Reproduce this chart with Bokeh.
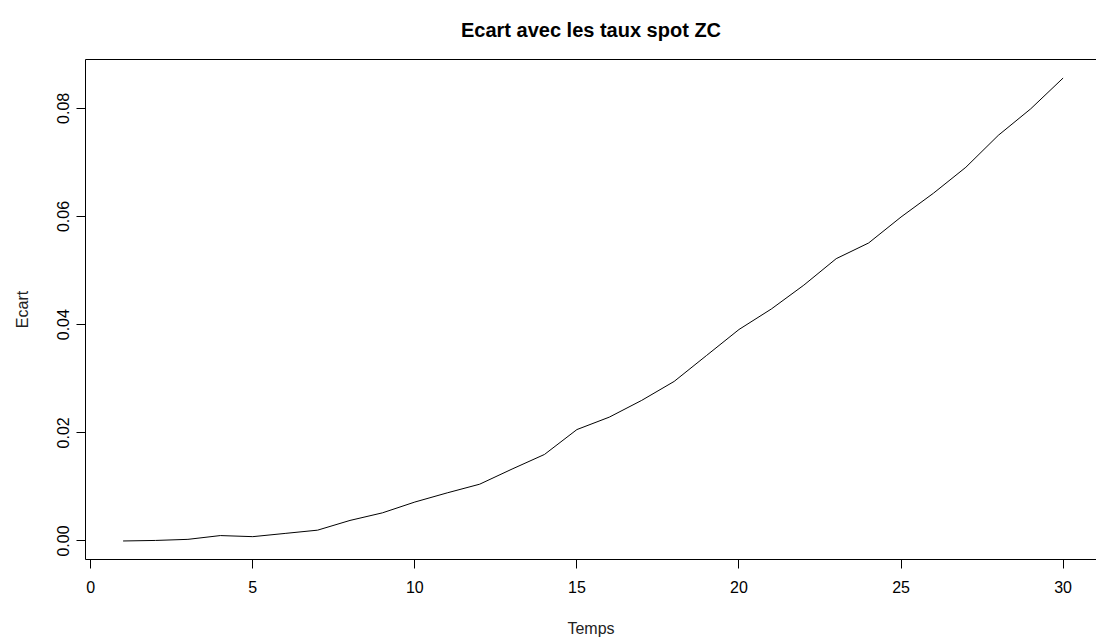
from bokeh.plotting import figure
from bokeh.models import (Range1d, FixedTicker, PrintfTickFormatter, LinearAxis, Title)
from bokeh.embed import file_html
from bokeh.resources import INLINE

# Data
temps = [1, 2, 3, 4, 5, 6, 7, 8, 9, 10, 11, 12, 13, 14, 15,
         16, 17, 18, 19, 20, 21, 22, 23, 24, 25, 26, 27, 28, 29, 30]
ecart = [0.0000, 0.0001, 0.0003, 0.0010, 0.0008, 0.0014, 0.0020, 0.0038, 0.0052, 0.0072,
         0.0089, 0.0105, 0.0133, 0.0160, 0.0206, 0.0229, 0.0260, 0.0295, 0.0343, 0.0391,
         0.0429, 0.0473, 0.0522, 0.0551, 0.0599, 0.0643, 0.0691, 0.0750, 0.0799, 0.0856]
x_ticks = [0, 5, 10, 15, 20, 25, 30]
y_ticks = [0.00, 0.02, 0.04, 0.06, 0.08]
title_text = "Ecart avec les taux spot ZC"

FONT = "Liberation Sans"

p = figure(width=1096, height=641, output_backend="svg", toolbar_location=None,
           x_range=Range1d(-0.16, 31.03), y_range=Range1d(-0.003424, 0.089024),
           x_axis_location=None, y_axis_location=None,
           min_border_left=85, min_border_right=0, min_border_top=59, min_border_bottom=82)
p.outline_line_color = None
p.grid.visible = False
p.background_fill_color = "white"
p.border_fill_color = "white"

p.line(temps, ecart, line_color="black", line_width=1)

def style(ax):
    ax.axis_line_color = "black"
    ax.axis_line_width = 1
    ax.major_tick_line_color = "black"
    ax.major_tick_out = 9
    ax.major_tick_in = 0
    ax.minor_tick_line_color = None
    ax.major_label_text_font = FONT
    ax.major_label_text_font_size = "16px"
    ax.major_label_text_color = "black"
    ax.axis_label_text_font = FONT
    ax.axis_label_text_font_size = "16px"
    ax.axis_label_text_font_style = "normal"
    ax.axis_label_text_color = "#222222"

xa = LinearAxis(ticker=FixedTicker(ticks=x_ticks), axis_label="Temps")
style(xa)
xa.major_label_standoff = 12
xa.axis_label_standoff = 24
p.add_layout(xa, "below")

ya = LinearAxis(ticker=FixedTicker(ticks=y_ticks), axis_label="Ecart",
                formatter=PrintfTickFormatter(format="%.2f"))
style(ya)
ya.major_label_orientation = "vertical"
ya.major_label_standoff = 7
ya.axis_label_standoff = 24
p.add_layout(ya, "left")

ta = LinearAxis(ticker=FixedTicker(ticks=[]))
ta.axis_line_color = "black"
ta.major_tick_line_color = None
ta.minor_tick_line_color = None
ta.major_label_text_font_size = "0px"
p.add_layout(ta, "above")

t = Title(text=title_text, align="center", vertical_align="top", text_font=FONT,
          text_font_size="20px", text_font_style="bold", text_color="black",
          standoff=33)
p.add_layout(t, "above")

open("out.html", "w").write(file_html(p, INLINE))
